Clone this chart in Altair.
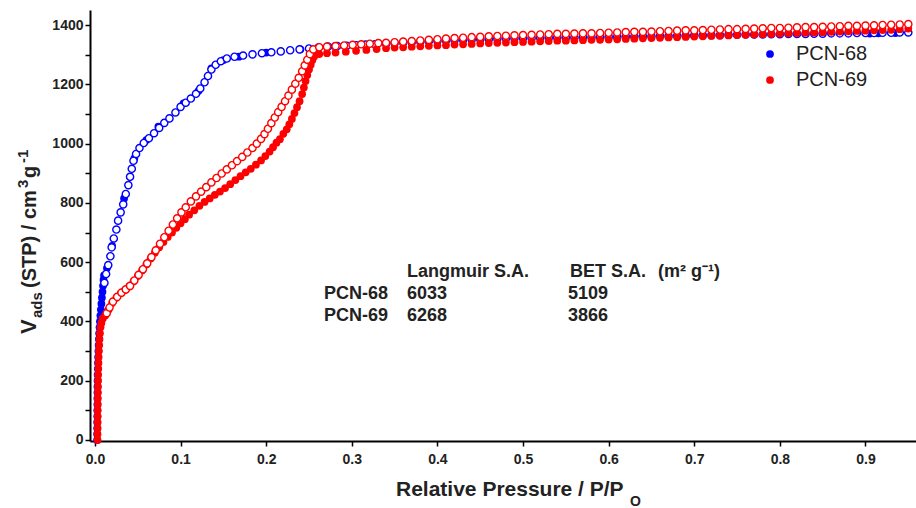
import altair as alt
import pandas as pd

FONT = "Liberation Sans"
BLUE = "#0000FF"
RED = "#FF0000"

# ---------------- data ----------------
PLATEAU_P = [0.34, 0.35, 0.36, 0.37, 0.38, 0.39, 0.40, 0.41, 0.42, 0.43, 0.44, 0.45,
             0.46, 0.47, 0.48, 0.49, 0.50, 0.51, 0.52, 0.53, 0.54, 0.55, 0.56, 0.57,
             0.58, 0.59, 0.60, 0.61, 0.62, 0.63, 0.64, 0.65, 0.66, 0.67, 0.68, 0.69,
             0.70, 0.71, 0.72, 0.73, 0.74, 0.75, 0.76, 0.77, 0.78, 0.79, 0.80, 0.81,
             0.82, 0.83, 0.84, 0.85, 0.86, 0.87, 0.88, 0.89, 0.90, 0.91, 0.92, 0.93,
             0.94, 0.95]

# PCN-68 adsorption (filled)
PCN68_ADS_P = [0.0025, 0.0025, 0.0026, 0.0026, 0.0027, 0.0027, 0.0028, 0.0028, 0.0029, 0.0029,
               0.0030, 0.0031, 0.0033, 0.0035, 0.0037, 0.0040, 0.0043, 0.0046, 0.0049, 0.0053,
               0.0058, 0.0063, 0.0069, 0.0075, 0.0081, 0.0088, 0.0094, 0.0100, 0.0106,
               0.014, 0.020, 0.034, 0.041, 0.046, 0.060, 0.074, 0.1035, 0.121, 0.136, 0.150,
               0.168, 0.200, 0.240, 0.280, 0.905, 0.915, 0.935]
PCN68_ADS_V = [0, 20, 40, 60, 80, 100, 120, 140, 160, 180,
               200, 220, 240, 260, 280, 300, 320, 340, 360, 380,
               400, 420, 440, 460, 480, 500, 520, 540, 555,
               580, 655, 815, 888, 950, 1012, 1057, 1136, 1178, 1254, 1282,
               1293, 1307, 1318, 1328, 1371, 1372, 1373]

# PCN-68 desorption (open)
PCN68_DES_P = [0.011, 0.013, 0.0155, 0.018, 0.0195, 0.022, 0.025, 0.027, 0.030, 0.033,
               0.036, 0.039, 0.041, 0.043, 0.045, 0.048, 0.052, 0.057, 0.063, 0.069,
               0.075, 0.081, 0.087, 0.094, 0.100, 0.106, 0.112, 0.118, 0.123, 0.128,
               0.132, 0.136, 0.141, 0.147, 0.154, 0.163, 0.173, 0.184, 0.195, 0.206,
               0.217, 0.228, 0.239, 0.250, 0.261, 0.272, 0.283, 0.294, 0.305, 0.316, 0.327]
PCN68_DES_V = [530, 560, 590, 620, 650, 680, 710, 740, 768, 795,
               830, 860, 888, 915, 942, 965, 985, 1002, 1018, 1035,
               1053, 1070, 1085, 1105, 1124, 1138, 1152, 1168, 1186, 1207,
               1228, 1250, 1266, 1278, 1287, 1293, 1297, 1301, 1305, 1308,
               1311, 1315, 1318, 1321, 1324, 1327, 1329, 1330, 1332, 1334, 1335]
PCN68_DES_PLATEAU_V = [1337, 1339, 1341, 1342, 1344, 1345, 1347, 1348, 1349, 1350, 1351, 1352,
                       1353, 1354, 1355, 1355, 1356, 1356, 1357, 1357, 1358, 1358, 1358, 1359,
                       1359, 1359, 1360, 1360, 1361, 1361, 1362, 1362, 1363, 1363, 1364, 1364,
                       1365, 1365, 1366, 1366, 1367, 1367, 1368, 1368, 1368, 1369, 1369, 1370,
                       1370, 1370, 1371, 1371, 1372, 1372, 1372, 1373, 1373, 1373, 1374, 1374,
                       1375, 1375]

# PCN-69 adsorption (filled)
PCN69_ADS_P = [0.0030, 0.0030, 0.0031, 0.0031, 0.0032, 0.0032, 0.0033, 0.0033, 0.0034, 0.0035,
               0.0036, 0.0037, 0.0039, 0.0041, 0.0043, 0.0046, 0.0049, 0.0053, 0.0058, 0.0065,
               0.0075, 0.0092,
               0.012, 0.016, 0.020, 0.025, 0.030, 0.035, 0.040, 0.045, 0.050, 0.055,
               0.060, 0.065, 0.070, 0.075, 0.080, 0.085, 0.090, 0.095, 0.100, 0.105,
               0.110, 0.116, 0.122, 0.128, 0.134, 0.140, 0.146, 0.152, 0.158, 0.164,
               0.170, 0.176, 0.182, 0.188, 0.194, 0.199, 0.204, 0.208, 0.212, 0.216,
               0.220, 0.224, 0.227, 0.230, 0.233, 0.236, 0.239, 0.242, 0.244, 0.246,
               0.248, 0.250, 0.252, 0.254, 0.256, 0.262, 0.271, 0.281, 0.293, 0.305,
               0.317, 0.329]
PCN69_ADS_V = [0, 20, 40, 60, 80, 100, 120, 140, 160, 180,
               200, 220, 240, 260, 280, 300, 320, 340, 360, 380,
               395, 410,
               420, 440, 462, 480, 495, 506, 518, 535, 553, 572,
               592, 612, 632, 650, 668, 685, 700, 716, 731, 745,
               760, 775, 790, 803, 815, 827, 838, 850, 863, 877,
               890, 903, 915, 929, 943, 958, 973, 988, 1003, 1015,
               1033, 1048, 1065, 1083, 1103, 1123, 1143, 1167, 1189, 1211,
               1231, 1250, 1266, 1282, 1294, 1302, 1305, 1307, 1310, 1313,
               1316, 1319]
PCN69_ADS_PLATEAU_V = [1322, 1324, 1325, 1327, 1328, 1330, 1331, 1332, 1334, 1335, 1336, 1338,
                       1339, 1340, 1341, 1342, 1343, 1344, 1345, 1346, 1347, 1347, 1348, 1349,
                       1350, 1350, 1351, 1352, 1353, 1354, 1355, 1356, 1357, 1358, 1359, 1360,
                       1361, 1362, 1363, 1364, 1365, 1366, 1367, 1368, 1369, 1370, 1371, 1372,
                       1373, 1374, 1375, 1376, 1377, 1378, 1379, 1380, 1381, 1382, 1383, 1384,
                       1386, 1388]

# PCN-69 desorption (open)
PCN69_DES_P = [0.0137, 0.017, 0.021, 0.026, 0.031, 0.036, 0.041, 0.046, 0.051, 0.056,
               0.061, 0.066, 0.071, 0.076, 0.081, 0.086, 0.091, 0.096, 0.101, 0.106,
               0.112, 0.118, 0.124, 0.130, 0.136, 0.142, 0.148, 0.154, 0.160, 0.166,
               0.172, 0.178, 0.184, 0.189, 0.194, 0.198, 0.202, 0.206, 0.210, 0.214,
               0.218, 0.222, 0.226, 0.230, 0.234, 0.238, 0.242, 0.245, 0.248, 0.251,
               0.255, 0.262, 0.271, 0.281, 0.291, 0.301, 0.311, 0.321, 0.331]
PCN69_DES_V = [428, 447, 467, 483, 497, 508, 520, 538, 557, 576,
               596, 617, 640, 662, 684, 706, 727, 748, 768, 785,
               805, 822, 838, 853, 869, 884, 899, 913, 927, 941,
               955, 970, 985, 1000, 1016, 1032, 1050, 1069, 1088, 1106,
               1124, 1143, 1162, 1182, 1202, 1222, 1244, 1264, 1283, 1302,
               1318, 1325, 1327, 1329, 1331, 1333, 1335, 1337, 1339]
PCN69_DES_PLATEAU_V = [1340, 1342, 1344, 1346, 1348, 1350, 1352, 1354, 1356, 1357, 1359, 1360,
                       1362, 1363, 1364, 1365, 1366, 1367, 1368, 1369, 1370, 1370, 1371, 1372,
                       1372, 1373, 1374, 1375, 1376, 1377, 1377, 1378, 1379, 1380, 1381, 1382,
                       1382, 1383, 1384, 1385, 1386, 1386, 1387, 1388, 1389, 1390, 1390, 1391,
                       1392, 1393, 1393, 1394, 1395, 1396, 1397, 1397, 1398, 1399, 1400, 1401,
                       1402, 1403]

SERIES = ["PCN-68", "PCN-69"]
X_TICKS = [0.0, 0.1, 0.2, 0.3, 0.4, 0.5, 0.6, 0.7, 0.8, 0.9]
Y_TICKS = [0, 100, 200, 300, 400, 500, 600, 700, 800, 900, 1000, 1100, 1200, 1300, 1400]

TABLE_HEAD = ["Langmuir S.A.", "BET S.A.", "(m² g⁻¹)"]
TABLE_ROWS = [["PCN-68", "6033", "5109"], ["PCN-69", "6268", "3866"]]

# ---------------- build table ----------------
def frame(ps, vs, series, branch):
    return pd.DataFrame({"p": ps, "v": vs, "series": series, "branch": branch})

df = pd.concat([
    frame(PCN68_ADS_P, PCN68_ADS_V, "PCN-68", "ads"),
    frame(PCN68_DES_P + PLATEAU_P, PCN68_DES_V + PCN68_DES_PLATEAU_V, "PCN-68", "des"),
    frame(PCN69_ADS_P + PLATEAU_P, PCN69_ADS_V + PCN69_ADS_PLATEAU_V, "PCN-69", "ads"),
    frame(PCN69_DES_P + PLATEAU_P, PCN69_DES_V + PCN69_DES_PLATEAU_V, "PCN-69", "des"),
], ignore_index=True)

xs = alt.Scale(domain=[-0.0058, 0.959], nice=False, zero=False)
ys = alt.Scale(domain=[-3.4, 1450.7], nice=False, zero=False)
cscale = alt.Scale(domain=SERIES, range=[BLUE, RED])

x_axis = alt.Axis(values=X_TICKS, format=".1f", title=None, grid=False,
                  labelFont=FONT, labelFontSize=14, labelFontWeight="bold", labelColor="#222222",
                  tickSize=5, tickWidth=1.5, tickColor="black", domainColor="black", domainWidth=2,
                  labelPadding=6, labelFlush=False)
y_axis = alt.Axis(values=Y_TICKS, format="d", title=None, grid=False,
                  labelExpr="datum.value % 200 == 0 ? datum.label : ''",
                  labelFont=FONT, labelFontSize=14, labelFontWeight="bold", labelColor="#222222",
                  tickSize=5, tickWidth=1.5, tickColor="black", domainColor="black", domainWidth=2,
                  labelPadding=2, labelFlush=False)

X = alt.X("p:Q", scale=xs, axis=x_axis)
Y = alt.Y("v:Q", scale=ys, axis=y_axis)

legend = alt.Legend(title=None, orient="none", legendX=670, legendY=34, symbolType="circle",
                    symbolSize=60, symbolStrokeWidth=0, labelFont=FONT, labelFontSize=20,
                    labelColor="#222222", labelOffset=16, rowPadding=6, padding=0)


def filled(name, show_legend):
    return alt.Chart(df).transform_filter(
        (alt.datum.series == name) & (alt.datum.branch == "ads")
    ).mark_circle(size=60, opacity=1).encode(
        x=X, y=Y,
        color=alt.Color("series:N", scale=cscale, legend=legend if show_legend else None),
    )


def opened(name):
    return alt.Chart(df).transform_filter(
        (alt.datum.series == name) & (alt.datum.branch == "des")
    ).mark_point(shape="circle", size=52, strokeWidth=1.4, opacity=1, filled=False).encode(
        x=X, y=Y,
        stroke=alt.Stroke("series:N", scale=cscale, legend=None),
        fill=alt.value("white"),
    )


def txt(s, x, y, size, weight="bold", angle=0, color="#222222"):
    return alt.Chart(pd.DataFrame({"t": [s]})).mark_text(
        font=FONT, fontSize=size, fontWeight=weight, angle=angle,
        align="left", baseline="alphabetic", color=color,
    ).encode(x=alt.value(x), y=alt.value(y), text="t:N")


OX, OY = 90, 10  # plot origin in page pixels

annotations = []
# table
annotations.append(txt(TABLE_HEAD[0], 407 - OX, 277 - OY, 18))
annotations.append(txt(TABLE_HEAD[1], 570 - OX, 277 - OY, 18))
annotations.append(txt(TABLE_HEAD[2], 658 - OX, 277 - OY, 18))
for i, row in enumerate(TABLE_ROWS):
    yy = [299, 321][i] - OY
    annotations.append(txt(row[0], 324 - OX, yy, 18))
    annotations.append(txt(row[1], 407 - OX, yy, 18))
    annotations.append(txt(row[2], 568 - OX, yy, 18))

# x axis title
annotations.append(txt("Relative Pressure / P/P", 396 - OX, 496 - OY, 21))
annotations.append(txt("O", 630 - OX, 506 - OY, 14))

# y axis title (rotated)
annotations.append(txt("V", 36 - OX, 334 - OY, 22, angle=270))
annotations.append(txt("ads", 42 - OX, 318 - OY, 15, angle=270))
annotations.append(txt("(STP) / cm", 36 - OX, 288 - OY, 20, angle=270))
annotations.append(txt("3", 28 - OX, 188 - OY, 15, angle=270))
annotations.append(txt("g", 36 - OX, 178 - OY, 20, angle=270))
annotations.append(txt("-1", 28 - OX, 163 - OY, 15, angle=270))

chart = alt.layer(
    filled("PCN-68", True), opened("PCN-68"),
    filled("PCN-69", False), opened("PCN-69"),
    *annotations,
).properties(
    width=826, height=431,
    autosize=alt.AutoSizeParams(type="none"),
    padding={"left": OX, "top": OY, "right": 0, "bottom": 67},
    background="white",
).configure_view(stroke=None)

chart.save("out.html", embed_options={"renderer": "svg", "actions": False})
